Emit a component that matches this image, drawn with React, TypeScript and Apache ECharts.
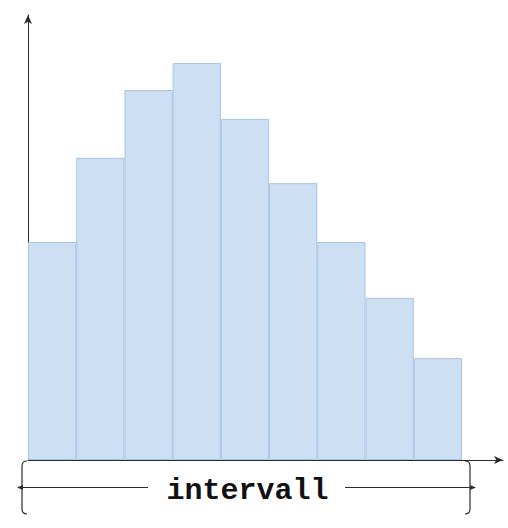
import React, { useEffect, useRef } from "react";
import * as echarts from "echarts";

const categories = ["1", "2", "3", "4", "5", "6", "7", "8", "9"];
const values = [49.2, 68.2, 83.5, 89.6, 77.0, 62.5, 49.2, 36.6, 23.0];
const label = "intervall";

const bracketPath =
  "M27,461 Q22,461 22,466 L22,509 Q22,514 27,514 M465,461 Q470,461 470,466 L470,509 Q470,514 465,514";
echarts.graphic.registerShape("bracketPath", echarts.graphic.extendPath(bracketPath, {}) as any);

export default function App() {
  const ref = useRef<HTMLDivElement>(null);
  useEffect(() => {
    if (!ref.current) return;
    const chart = echarts.init(ref.current, null, { renderer: "svg" });
    const ink = "#2b2b2b";
    chart.setOption({
      animation: false,
      grid: [
        { left: 28, right: 46, top: 17, bottom: 68 },
        { left: 28, right: 5, top: 15, bottom: 68 },
      ],
      xAxis: [
        {
          gridIndex: 0,
          type: "category",
          data: categories,
          axisLine: { show: false },
          axisTick: { show: false },
          axisLabel: { show: false },
        },
        {
          gridIndex: 1,
          type: "value",
          min: 0,
          max: 1,
          axisLine: { show: true, lineStyle: { color: ink, width: 1 }, symbol: ["none", "arrow"], symbolSize: [6, 9] },
          axisTick: { show: false },
          axisLabel: { show: false },
          splitLine: { show: false },
        },
      ],
      yAxis: [
        {
          gridIndex: 0,
          type: "value",
          min: 0,
          max: 100,
          axisLine: { show: false },
          axisTick: { show: false },
          axisLabel: { show: false },
          splitLine: { show: false },
        },
        {
          gridIndex: 1,
          type: "value",
          min: 0,
          max: 1,
          axisLine: { show: true, lineStyle: { color: ink, width: 1 }, symbol: ["none", "arrow"], symbolSize: [6, 9] },
          axisTick: { show: false },
          axisLabel: { show: false },
          splitLine: { show: false },
        },
      ],
      series: [
        {
          type: "bar",
          xAxisIndex: 0,
          yAxisIndex: 0,
          data: values,
          barCategoryGap: 0,
          barWidth: "100%",
          itemStyle: { color: "#cddff3", borderColor: "#a8c3e2", borderWidth: 1 },
          z: 1,
        },
      ],
      graphic: [
        { type: "bracketPath", x: 0, y: 0, style: { fill: "none", stroke: ink, lineWidth: 1.2 } },
        { type: "line", shape: { x1: 20, y1: 487.5, x2: 148, y2: 487.5 }, style: { stroke: ink, lineWidth: 1 } },
        { type: "line", shape: { x1: 345, y1: 487.5, x2: 473, y2: 487.5 }, style: { stroke: ink, lineWidth: 1 } },
        { type: "polygon", shape: { points: [[17, 487.5], [23, 485], [23, 490]] }, style: { fill: ink } },
        { type: "polygon", shape: { points: [[476, 487.5], [470, 485], [470, 490]] }, style: { fill: ink } },
        {
          type: "text",
          x: 247.5,
          y: 491,
          style: {
            text: label,
            font: 'bold 30px "Liberation Mono", monospace',
            fill: "#111",
            align: "center",
            verticalAlign: "middle",
          },
        },
      ],
    });
    return () => chart.dispose();
  }, []);
  return (
    <div
      ref={ref}
      style={{ position: "absolute", left: 0, top: 0, width: 508, height: 528, background: "#fff" }}
    />
  );
}
